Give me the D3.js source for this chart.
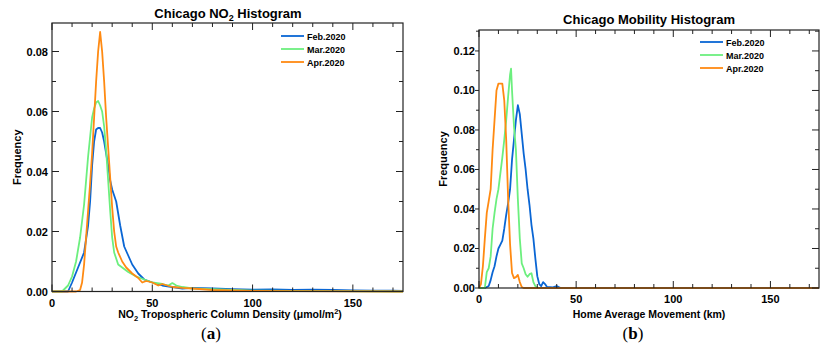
<!DOCTYPE html>
<html><head><meta charset="utf-8">
<script src="https://cdn.jsdelivr.net/npm/d3@7"></script>
<style>body{margin:0;background:#fff}svg{display:block}</style>
</head><body><svg id="c" width="826" height="350"></svg>
<script>
const seriesNames = ["Feb.2020","Mar.2020","Apr.2020"];
const seriesColors = ["#0a66d4","#6cef7e","#ff8a12"];

// Panel (a): NO2 tropospheric column density
const no2FebX = [0,8,10,13,16,18,19,20,21,22,23,24,25,26,27,28,29,30,31,32,34,36,38,40,43,46,50,55,60,65,70,80,90,100,110,120,130,140,150,160,170,175];
const no2FebY = [0,0,0.003,0.008,0.013,0.022,0.03,0.042,0.05,0.054,0.0545,0.0545,0.053,0.05,0.046,0.042,0.037,0.034,0.032,0.03,0.022,0.015,0.012,0.009,0.006,0.004,0.003,0.002,0.0015,0.001,0.0012,0.001,0.0008,0.0006,0.0007,0.0005,0.0006,0.0005,0.0004,0.0003,0.0003,0.0002];
const no2MarX = [0,5,8,10,12,14,16,18,20,21,22,23,24,25,26,27,28,29,30,31,33,35,38,42,46,50,55,58,60,62,65,70,80,90,100,120,140,175];
const no2MarY = [0,0,0.002,0.005,0.01,0.018,0.029,0.045,0.058,0.061,0.063,0.0635,0.062,0.06,0.055,0.047,0.037,0.027,0.018,0.013,0.009,0.008,0.0065,0.005,0.004,0.003,0.0025,0.002,0.0028,0.002,0.0015,0.001,0.0008,0.0005,0.0003,0.0002,0.0001,0];
const no2AprX = [0,12,14,15,16,17,18,19,20,21,22,23,24,25,26,27,28,29,30,31,32,33,35,37,40,43,45,47,50,53,55,60,65,70,80,100,120,175];
const no2AprY = [0,0,0.0005,0.003,0.009,0.018,0.027,0.036,0.046,0.058,0.07,0.08,0.0865,0.08,0.07,0.058,0.048,0.038,0.028,0.02,0.015,0.013,0.01,0.008,0.006,0.0045,0.003,0.0035,0.003,0.002,0.0025,0.0015,0.0012,0.001,0.0005,0.0002,0.0001,0];

// Panel (b): home average movement
const mobFebX = [0,3,5,6,7,8,9,10,11,12,13,14,15,16,17,18,19,20,21,22,23,24,25,26,27,28,29,30,31,32,33,34,35,38,40,42,175];
const mobFebY = [0,0,0.001,0.004,0.008,0.011,0.016,0.02,0.022,0.024,0.03,0.037,0.043,0.05,0.065,0.075,0.085,0.0925,0.088,0.078,0.068,0.06,0.05,0.042,0.032,0.025,0.015,0.006,0.002,0.001,0.003,0.002,0.0005,0.0003,0.001,0,0];
const mobMarX = [0,3,4,5,6,7,8,9,10,11,12,13,14,15,16,16.5,17,18,19,20,21,22,23,24,25,26,27,28,29,30,175];
const mobMarY = [0,0,0.008,0.01,0.016,0.03,0.038,0.045,0.05,0.058,0.066,0.075,0.085,0.097,0.108,0.111,0.1,0.082,0.07,0.045,0.025,0.0125,0.01,0.007,0.0057,0.007,0.0075,0.003,0.001,0,0];
const mobAprX = [0,1,2,3,4,5,6,7,8,9,10,12,13,14,15,16,17,18,19,20,21,22,23,175];
const mobAprY = [0,0.002,0.011,0.025,0.038,0.044,0.05,0.07,0.085,0.1,0.1035,0.1035,0.095,0.075,0.045,0.022,0.0076,0.005,0.0055,0.0066,0.003,0.0005,0,0];

const svg = d3.select("#c");
const FONT = "'Liberation Sans', Arial, Helvetica, sans-serif";

function panel(o){
  const x = d3.scaleLinear().domain([0,175]).range([o.left,o.right]);
  const y = d3.scaleLinear().domain([0,o.ymax]).range([o.bottom,o.top]);
  const g = svg.append("g");
  const line = d3.line().x(d=>x(d[0])).y(d=>y(d[1]));
  o.series.forEach((s,i)=>{
    g.append("path").datum(d3.zip(s[0],s[1])).attr("d",line)
      .attr("fill","none").attr("stroke",seriesColors[i]).attr("stroke-width",1.8)
      .attr("stroke-linejoin","round");
  });
  g.append("rect").attr("x",o.left).attr("y",o.top).attr("width",o.right-o.left).attr("height",o.bottom-o.top)
    .attr("fill","none").attr("stroke","#222").attr("stroke-width",1.2);
  const xMajor = [0,50,100,150], xMinor = d3.range(0,176,10);
  xMinor.forEach(v=>{
    const L = xMajor.includes(v)?7:4;
    g.append("line").attr("x1",x(v)).attr("x2",x(v)).attr("y1",o.bottom).attr("y2",o.bottom-L).attr("stroke","#222");
    g.append("line").attr("x1",x(v)).attr("x2",x(v)).attr("y1",o.top).attr("y2",o.top+L).attr("stroke","#222");
  });
  const yMinor = d3.range(0,o.ymax+1e-9,0.01);
  yMinor.forEach((v,k)=>{
    const L = (k%2===0)?7:4;
    const LL = o.leftOut ? -((k%2===0)?4:3) : L;
    g.append("line").attr("x1",o.left).attr("x2",o.left+LL).attr("y1",y(v)).attr("y2",y(v)).attr("stroke","#222");
    g.append("line").attr("x1",o.right).attr("x2",o.right-L).attr("y1",y(v)).attr("y2",y(v)).attr("stroke","#222");
  });
  xMajor.forEach(v=>{
    g.append("text").attr("x",x(v)).attr("y",o.bottom+15).attr("text-anchor","middle")
      .attr("font-family",FONT).attr("font-weight","bold").attr("font-size",11).text(v);
  });
  d3.range(0,o.ymax+1e-9,0.02).forEach(v=>{
    g.append("text").attr("x",o.left-(o.leftOut?4:4)).attr("y",y(v)+4).attr("text-anchor","end")
      .attr("font-family",FONT).attr("font-weight","bold").attr("font-size",11).text(v.toFixed(2));
  });
  g.append("text").attr("transform",`translate(${o.ylabX},${(o.top+o.bottom)/2}) rotate(-90)`)
    .attr("text-anchor","middle").attr("font-family",FONT).attr("font-weight","bold").attr("font-size",11).text("Frequency");
  seriesNames.forEach((n,i)=>{
    const ly = o.legY + i*13;
    g.append("line").attr("x1",o.legX).attr("x2",o.legX+23).attr("y1",ly).attr("y2",ly)
      .attr("stroke",seriesColors[i]).attr("stroke-width",1.8);
    g.append("text").attr("x",o.legX+26).attr("y",ly+3.5).attr("font-family",FONT).attr("font-weight","bold")
      .attr("font-size",9).text(n);
  });
  return g;
}

panel({left:52,right:403,top:23,bottom:291.5,ymax:0.0895,ylabX:20.5,legX:281,legY:36,leftOut:false,
  series:[[no2FebX,no2FebY],[no2MarX,no2MarY],[no2AprX,no2AprY]]});
panel({left:479,right:819,top:30,bottom:288,ymax:0.1306,ylabX:447,legX:700,legY:42,leftOut:true,
  series:[[mobFebX,mobFebY],[mobMarX,mobMarY],[mobAprX,mobAprY]]});

const ta = svg.append("text").attr("x",228).attr("y",18).attr("text-anchor","middle")
  .attr("font-family",FONT).attr("font-weight","bold").attr("font-size",13);
ta.append("tspan").text("Chicago NO");
ta.append("tspan").attr("font-size",9).attr("dy",3).text("2");
ta.append("tspan").attr("dy",-3).text(" Histogram");
svg.append("text").attr("x",649).attr("y",24).attr("text-anchor","middle")
  .attr("font-family",FONT).attr("font-weight","bold").attr("font-size",13).text("Chicago Mobility Histogram");

const xa = svg.append("text").attr("x",230).attr("y",318).attr("text-anchor","middle")
  .attr("font-family",FONT).attr("font-weight","bold").attr("font-size",10.5);
xa.append("tspan").text("NO");
xa.append("tspan").attr("font-size",7.5).attr("dy",3).text("2");
xa.append("tspan").attr("dy",-3).text(" Tropospheric Column Density (\u03bcmol/m");
xa.append("tspan").attr("font-size",7.5).attr("dy",-4).text("2");
xa.append("tspan").attr("dy",4).text(")");
svg.append("text").attr("x",649).attr("y",318).attr("text-anchor","middle")
  .attr("font-family",FONT).attr("font-weight","bold").attr("font-size",10.5).text("Home Average Movement (km)");

[["a",211],["b",633]].forEach(([t,x])=>{
  const tt = svg.append("text").attr("x",x).attr("y",339).attr("text-anchor","middle")
    .attr("font-family","'Liberation Serif','DejaVu Serif',serif").attr("font-size",17);
  tt.append("tspan").text("(");
  tt.append("tspan").attr("font-weight","bold").text(t);
  tt.append("tspan").text(")");
});
</script></body></html>
